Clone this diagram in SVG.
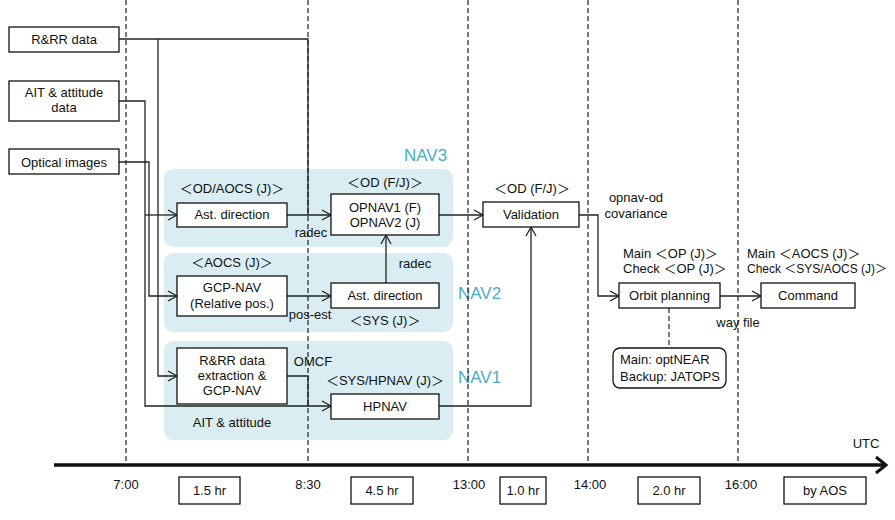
<svg xmlns="http://www.w3.org/2000/svg" width="895" height="520" viewBox="0 0 895 520">
<style>
text{font-family:"Liberation Sans","Noto Sans CJK JP",Arial,sans-serif;font-size:13px;fill:#111}
.c{text-anchor:middle}
.box{fill:#fff;stroke:#111;stroke-width:1.3}
.panel{fill:#daedf3;stroke:none}
.nav{font-size:17px;fill:#4bacc6}
.conn{fill:none;stroke:#222;stroke-width:1.3}
.arr{marker-end:url(#ah)}
.grid{stroke:#222;stroke-width:1.2;stroke-dasharray:5 3;fill:none}
</style>
<defs>
<marker id="ah" markerUnits="userSpaceOnUse" markerWidth="12" markerHeight="12" refX="10" refY="6" orient="auto">
<path d="M1,1 L10,6 L1,11" fill="none" stroke="#222" stroke-width="1.3"/>
</marker>
</defs>

<g id="panels">
<rect class="panel" x="164" y="169" width="289" height="78" rx="9"/>
<rect class="panel" x="164" y="253" width="289" height="79" rx="9"/>
<rect class="panel" x="164" y="341" width="289" height="99" rx="9"/>
<text class="nav" x="404" y="161">NAV3</text>
<text class="nav" x="458" y="299">NAV2</text>
<text class="nav" x="458" y="383">NAV1</text>
</g>

<g id="timeline">
<line class="grid" x1="126" y1="0" x2="126" y2="463"/>
<line class="grid" x1="308" y1="0" x2="308" y2="463"/>
<line class="grid" x1="468" y1="0" x2="468" y2="463"/>
<line class="grid" x1="588" y1="0" x2="588" y2="463"/>
<line class="grid" x1="738" y1="0" x2="738" y2="463"/>
<line x1="54" y1="465" x2="884" y2="465" stroke="#111" stroke-width="3.5"/>
<path d="M876,457 L886,465 L876,473" fill="none" stroke="#111" stroke-width="3"/>
<text class="c" x="866" y="448">UTC</text>
<text class="c" x="126" y="489">7:00</text>
<text class="c" x="308" y="489">8:30</text>
<text class="c" x="469" y="489">13:00</text>
<text class="c" x="590" y="489">14:00</text>
<text class="c" x="741" y="489">16:00</text>
<rect class="box" x="179" y="477" width="61" height="27"/>
<text class="c" x="209.5" y="495">1.5 hr</text>
<rect class="box" x="351" y="477" width="62" height="27"/>
<text class="c" x="382" y="495">4.5 hr</text>
<rect class="box" x="500" y="477" width="46" height="27"/>
<text class="c" x="523" y="495">1.0 hr</text>
<rect class="box" x="638" y="477" width="62" height="27"/>
<text class="c" x="669" y="495">2.0 hr</text>
<rect class="box" x="784" y="477" width="82" height="27"/>
<text class="c" x="825" y="495">by AOS</text>
</g>

<g id="connectors">
<polyline class="conn" points="119,39 308,39 308,215"/>
<polyline class="conn arr" points="158,39 158,376 177,376"/>
<polyline class="conn arr" points="119,101 145,101 145,406 331,406"/>
<polyline class="conn arr" points="119,162 149,162 149,296 177,296"/>
<polyline class="conn arr" points="145,215 177,215"/>
<polyline class="conn arr" points="287,215 331,215"/>
<polyline class="conn arr" points="287,296 331,296"/>
<polyline class="conn arr" points="386,283 386,235"/>
<polyline class="conn" points="287,376 308,376 308,406"/>
<polyline class="conn arr" points="439,215 483,215"/>
<polyline class="conn arr" points="439,406 531,406 531,227"/>
<polyline class="conn arr" points="579,215 598,215 598,296 619,296"/>
<polyline class="conn arr" points="720,296 761,296"/>
<line class="grid" x1="669" y1="308" x2="669" y2="348"/>
<text class="c" x="311" y="237">radec</text>
<text class="c" x="415" y="268">radec</text>
<text class="c" x="310" y="319">pos-est</text>
<text class="c" x="313" y="366">OMCF</text>
<text class="c" x="232" y="427">AIT &amp; attitude</text>
<text class="c" x="636" y="202">opnav-od</text>
<text class="c" x="636" y="218">covariance</text>
<text class="c" x="738" y="327">way file</text>
</g>

<g id="rrr-data">
<rect class="box" x="9" y="27" width="110" height="25"/>
<text class="c" x="64" y="44">R&amp;RR data</text>
</g>
<g id="ait-data">
<rect class="box" x="9" y="81" width="110" height="40"/>
<text class="c" x="64" y="97">AIT &amp; attitude</text>
<text class="c" x="64" y="112">data</text>
</g>
<g id="optical-images">
<rect class="box" x="9" y="149" width="110" height="25"/>
<text class="c" x="64" y="167">Optical images</text>
</g>

<g id="ast-direction-nav3">
<text class="c" x="232" y="193">＜OD/AOCS (J)＞</text>
<rect class="box" x="177" y="203" width="110" height="24"/>
<text class="c" x="232" y="219">Ast. direction</text>
</g>
<g id="opnav">
<text class="c" x="385" y="187">＜OD (F/J)＞</text>
<rect class="box" x="331" y="194" width="108" height="41"/>
<text class="c" x="385" y="212">OPNAV1 (F)</text>
<text class="c" x="385" y="227">OPNAV2 (J)</text>
</g>
<g id="gcp-nav">
<text class="c" x="232" y="267">＜AOCS (J)＞</text>
<rect class="box" x="177" y="276" width="110" height="40"/>
<text class="c" x="232" y="292">GCP-NAV</text>
<text class="c" x="232" y="308">(Relative pos.)</text>
</g>
<g id="ast-direction-nav2">
<rect class="box" x="331" y="283" width="108" height="25"/>
<text class="c" x="385" y="300">Ast. direction</text>
<text class="c" x="385" y="325">＜SYS (J)＞</text>
</g>
<g id="rrr-extraction">
<rect class="box" x="177" y="348" width="110" height="56"/>
<text class="c" x="232" y="365">R&amp;RR data</text>
<text class="c" x="232" y="380">extraction &amp;</text>
<text class="c" x="232" y="395">GCP-NAV</text>
</g>
<g id="hpnav">
<text class="c" x="385" y="385">＜SYS/HPNAV (J)＞</text>
<rect class="box" x="331" y="394" width="108" height="25"/>
<text class="c" x="385" y="411">HPNAV</text>
</g>
<g id="validation">
<text class="c" x="532" y="193">＜OD (F/J)＞</text>
<rect class="box" x="483" y="202" width="96" height="25"/>
<text class="c" x="531" y="219">Validation</text>
</g>
<g id="orbit-planning">
<text x="623" y="258">Main ＜OP (J)＞</text>
<text x="623" y="273">Check ＜OP (J)＞</text>
<rect class="box" x="619" y="283" width="101" height="25"/>
<text class="c" x="669.5" y="300">Orbit planning</text>
</g>
<g id="command">
<text x="747" y="258">Main ＜AOCS (J)＞</text>
<text x="747" y="273" style="font-size:12px">Check ＜SYS/AOCS (J)＞</text>
<rect class="box" x="761" y="283" width="94" height="25"/>
<text class="c" x="808" y="300">Command</text>
</g>
<g id="tools">
<rect class="box" x="613" y="348" width="113" height="40" rx="7"/>
<text x="620" y="364">Main: optNEAR</text>
<text x="620" y="381">Backup: JATOPS</text>
</g>
</svg>
